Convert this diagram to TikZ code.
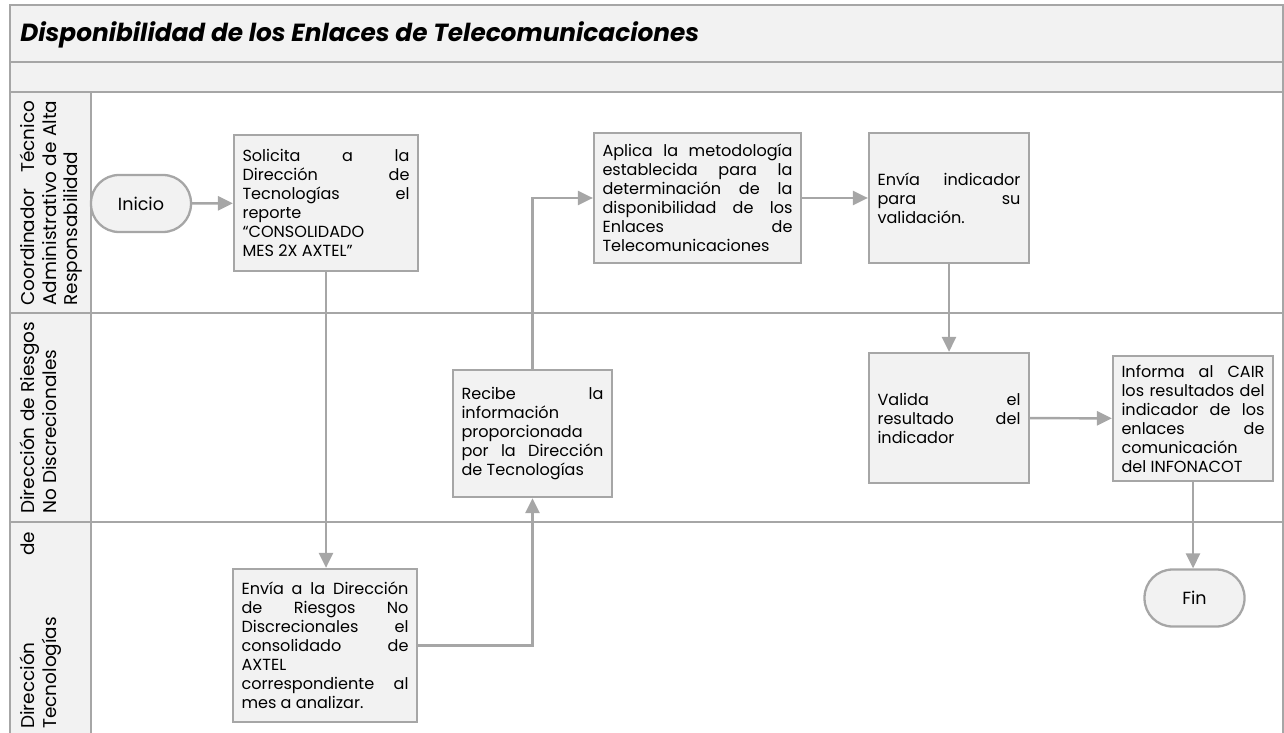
\documentclass[tikz,border=0pt]{standalone}
\usepackage{fontspec}
\setmainfont{Poppins}
\usetikzlibrary{arrows.meta}
\definecolor{linea}{RGB}{166,166,166}
\definecolor{fondo}{RGB}{242,242,242}
\hyphenpenalty=10000
\exhyphenpenalty=10000

\begin{document}
\begin{tikzpicture}[x=0.02cm, y=-0.02cm,
  marco/.style={draw=linea, line width=1.2pt},
  proceso/.style={draw=linea, fill=fondo, line width=1.3pt, inner xsep=0.17cm,
    align=justify, font=\fontsize{9.15}{10.8}\selectfont},
  terminal/.style={draw=linea, fill=fondo, line width=1.3pt, rounded corners=0.56cm,
    minimum width=2cm, minimum height=1.14cm, font=\fontsize{10}{12}\selectfont},
  carril/.style={rotate=90, anchor=north west, inner sep=0pt, align=justify,
    font=\fontsize{10.5}{12.2}\selectfont},
  flecha/.style={draw=linea, line width=1.4pt, -{Triangle[length=8.5pt, width=8pt]}}]
  \useasboundingbox (0,0) rectangle (1284,733);
  % marco y carriles
  \fill[fondo] (10,5) rectangle (1283,92);
  \fill[fondo] (10,92) rectangle (91,733);
  \draw[marco] (10,733) -- (10,5) -- (1283,5) -- (1283,733);
  \draw[marco] (10,62) -- (1283,62);
  \draw[marco] (10,92) -- (1283,92);
  \draw[marco] (10,313) -- (1283,313);
  \draw[marco] (10,522) -- (1283,522);
  \draw[marco] (91,92) -- (91,733);
  \node[anchor=base west, inner sep=0pt, font=\fontsize{14.1}{16}\selectfont\bfseries\itshape]
    (titulo) at (20,42) {Disponibilidad de los Enlaces de Telecomunicaciones};
  % nombres de los carriles
  \node[carril, text width=4.1cm] (carrilcoord) at (20,306)
    {Coordinador Técnico\linebreak Administrativo de Alta\linebreak Responsabilidad};
  \node[carril, text width=3.84cm] (carrilriesgos) at (20,514)
    {Dirección de Riesgos\linebreak No Discrecionales};
  \node[carril, text width=3.94cm] (carriltec) at (20,729)
    {Dirección de\linebreak Tecnologías};
  % actividades
  \node[terminal] (inicio) at (141,203.5) {Inicio};
  \node[proceso, text width=3.34cm, minimum height=2.72cm] (solicita) at (326,203)
    {Solicita a la\linebreak Dirección de\linebreak Tecnologías el\linebreak reporte\linebreak “CONSOLIDADO\linebreak MES 2X AXTEL”};
  \node[proceso, text width=3.8cm, minimum height=2.6cm] (aplica) at (697.5,198)
    {Aplica la metodología\linebreak establecida para la\linebreak determinación de la\linebreak disponibilidad de los\linebreak Enlaces de\linebreak Telecomunicaciones};
  \node[proceso, text width=2.86cm, minimum height=2.6cm] (enviaind) at (949,198)
    {Envía indicador\linebreak para su\linebreak validación.};
  \node[proceso, text width=2.84cm, minimum height=2.54cm] (recibe) at (532.5,433.5)
    {Recibe la\linebreak información\linebreak proporcionada\linebreak por la Dirección\linebreak de Tecnologías};
  \node[proceso, text width=2.86cm, minimum height=2.6cm] (valida) at (949,418)
    {Valida el\linebreak resultado del\linebreak indicador};
  \node[proceso, text width=2.86cm, minimum height=2.5cm] (informa) at (1193,418.5)
    {Informa al CAIR\linebreak los resultados del\linebreak indicador de los\linebreak enlaces de\linebreak comunicación\linebreak del INFONACOT};
  \node[proceso, text width=3.34cm, minimum height=3.06cm] (enviadir) at (325,645.5)
    {Envía a la Dirección\linebreak de Riesgos No\linebreak Discrecionales el\linebreak consolidado de\linebreak AXTEL\linebreak correspondiente al\linebreak mes a analizar.};
  \node[terminal] (fin) at (1194.5,598) {Fin};
  % flujo
  \draw[flecha] (inicio) -- (solicita);
  \draw[flecha] (solicita.south) -- (solicita.south |- enviadir.north);
  \draw[flecha] (enviadir.east) -| (recibe.south);
  \draw[flecha] (recibe.north) |- (aplica.west);
  \draw[flecha] (aplica) -- (enviaind);
  \draw[flecha] (enviaind) -- (valida);
  \draw[flecha] (valida) -- (informa);
  \draw[flecha] (informa.south) -- (informa.south |- fin.north);
\end{tikzpicture}
\end{document}
